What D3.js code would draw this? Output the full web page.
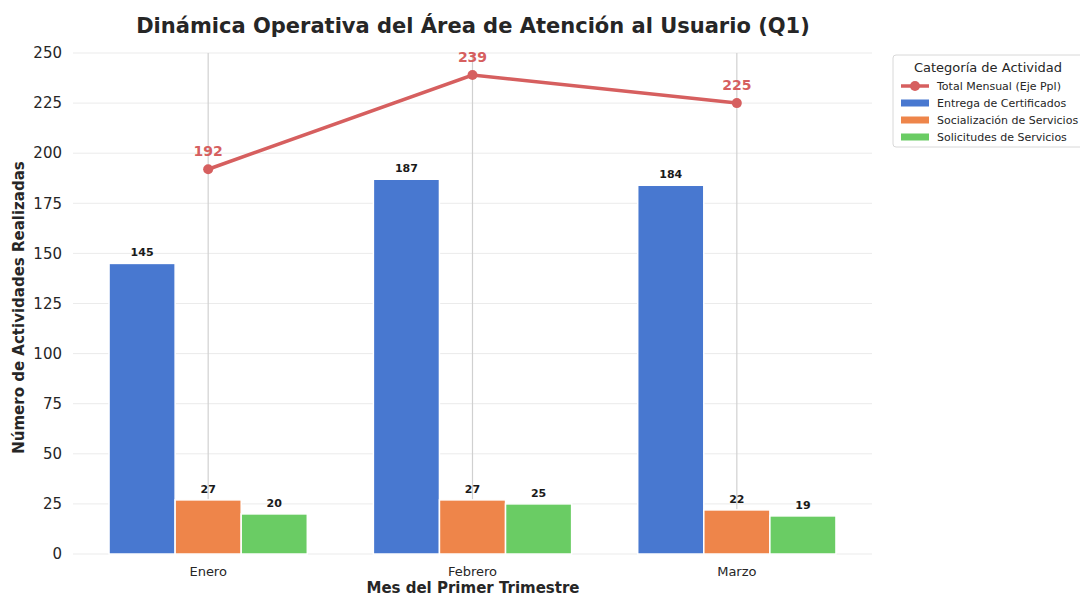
<!DOCTYPE html>
<html>
<head>
<meta charset="utf-8">
<script src="https://cdn.jsdelivr.net/npm/d3@7"></script>
<style>
  body { margin: 0; background: #fff; }
  svg { font-family: "DejaVu Sans", sans-serif; }
</style>
</head>
<body>
<svg id="canvas" width="1080" height="596"></svg>
<script>
const months = ["Enero", "Febrero", "Marzo"];
const seriesNames = ["Entrega de Certificados", "Socialización de Servicios", "Solicitudes de Servicios"];
const certificados = [145, 187, 184];
const socializacion = [27, 27, 22];
const solicitudes = [20, 25, 19];
const totals = [192, 239, 225];
const yTicks = [0, 25, 50, 75, 100, 125, 150, 175, 200, 225, 250];
const colors = ["#4878d0", "#ee854a", "#6acc64"];
const lineColor = "#d65f5f";

const svg = d3.select("#canvas");
const plotLeft = 76, plotRight = 869, plotTop = 53, plotBottom = 554;

const x = d3.scaleBand().domain(months).range([plotLeft, plotRight]).paddingInner(0).paddingOuter(0);
const inner = d3.scaleBand().domain(seriesNames).range([0, x.bandwidth() * 0.75]);
const y = d3.scaleLinear().domain([0, 250]).range([plotBottom, plotTop]);

// horizontal grid
svg.append("g").selectAll("line").data(yTicks).join("line")
  .attr("x1", plotLeft - 3).attr("x2", plotRight + 3)
  .attr("y1", d => y(d)).attr("y2", d => y(d))
  .attr("stroke", "#ebebeb").attr("stroke-width", 1);

// vertical grid at months
svg.append("g").selectAll("line").data(months).join("line")
  .attr("x1", d => x(d) + x.bandwidth() / 2).attr("x2", d => x(d) + x.bandwidth() / 2)
  .attr("y1", plotTop).attr("y2", plotBottom)
  .attr("stroke", "#d0d0d0").attr("stroke-width", 1.2);

// y tick labels
svg.append("g").selectAll("text").data(yTicks).join("text")
  .attr("x", 62).attr("y", d => y(d)).attr("dy", "0.35em")
  .attr("text-anchor", "end").attr("font-size", 15).attr("fill", "#262626")
  .text(d => d);

// bars
const seriesData = [certificados, socializacion, solicitudes];
seriesData.forEach((vals, si) => {
  const g = svg.append("g");
  const off = x.bandwidth() * 0.125 + inner(seriesNames[si]);
  g.selectAll("rect").data(vals).join("rect")
    .attr("x", (d, i) => x(months[i]) + off)
    .attr("y", d => y(d))
    .attr("width", inner.bandwidth())
    .attr("height", d => y(0) - y(d))
    .attr("fill", colors[si])
    .attr("stroke", "#fff").attr("stroke-width", 1.5);
  g.selectAll("text").data(vals).join("text")
    .attr("x", (d, i) => x(months[i]) + off + inner.bandwidth() / 2)
    .attr("y", d => y(d) - 7)
    .attr("text-anchor", "middle").attr("font-size", 11).attr("font-weight", "bold")
    .attr("fill", "#1a1a1a")
    .text(d => d);
});

// total line
const cx = m => x(m) + x.bandwidth() / 2;
const line = d3.line().x((d, i) => cx(months[i])).y(d => y(d));
svg.append("path").datum(totals)
  .attr("d", line).attr("fill", "none")
  .attr("stroke", lineColor).attr("stroke-width", 3.5);
svg.append("g").selectAll("circle").data(totals).join("circle")
  .attr("cx", (d, i) => cx(months[i])).attr("cy", d => y(d)).attr("r", 5)
  .attr("fill", lineColor);
svg.append("g").selectAll("text").data(totals).join("text")
  .attr("x", (d, i) => cx(months[i])).attr("y", d => y(d) - 13)
  .attr("text-anchor", "middle").attr("font-size", 14).attr("font-weight", "bold")
  .attr("fill", lineColor)
  .text(d => d);

// x tick labels
svg.append("g").selectAll("text").data(months).join("text")
  .attr("x", d => cx(d)).attr("y", 576)
  .attr("text-anchor", "middle").attr("font-size", 13).attr("fill", "#262626")
  .text(d => d);

// axis titles
svg.append("text").attr("x", 473).attr("y", 593)
  .attr("text-anchor", "middle").attr("font-size", 15).attr("font-weight", "bold")
  .attr("fill", "#262626").text("Mes del Primer Trimestre");
svg.append("text")
  .attr("transform", `translate(24, ${(plotTop + plotBottom) / 2 + 4}) rotate(-90)`)
  .attr("text-anchor", "middle").attr("font-size", 15).attr("font-weight", "bold")
  .attr("fill", "#262626").text("Número de Actividades Realizadas");

// title
svg.append("text").attr("x", 473).attr("y", 33)
  .attr("text-anchor", "middle").attr("font-size", 21).attr("font-weight", "bold")
  .attr("fill", "#262626").text("Dinámica Operativa del Área de Atención al Usuario (Q1)");

// legend
const lg = svg.append("g").attr("transform", "translate(893, 55)");
lg.append("rect").attr("x", 0).attr("y", 0).attr("width", 196).attr("height", 92)
  .attr("rx", 3).attr("fill", "#fff").attr("stroke", "#d8d8d8");
lg.append("text").attr("x", 95).attr("y", 17).attr("text-anchor", "middle")
  .attr("font-size", 13).attr("fill", "#262626").text("Categoría de Actividad");
const legendItems = ["Total Mensual (Eje Ppl)"].concat(seriesNames);
legendItems.forEach((name, i) => {
  const ly = 31 + i * 17;
  if (i === 0) {
    lg.append("line").attr("x1", 8).attr("x2", 36).attr("y1", ly).attr("y2", ly)
      .attr("stroke", lineColor).attr("stroke-width", 3.5);
    lg.append("circle").attr("cx", 22).attr("cy", ly).attr("r", 5).attr("fill", lineColor);
  } else {
    lg.append("rect").attr("x", 8).attr("y", ly - 3.5).attr("width", 28).attr("height", 7)
      .attr("fill", colors[i - 1]);
  }
  lg.append("text").attr("x", 44).attr("y", ly).attr("dy", "0.35em")
    .attr("font-size", 11).attr("fill", "#262626").text(name);
});
</script>
</body>
</html>
